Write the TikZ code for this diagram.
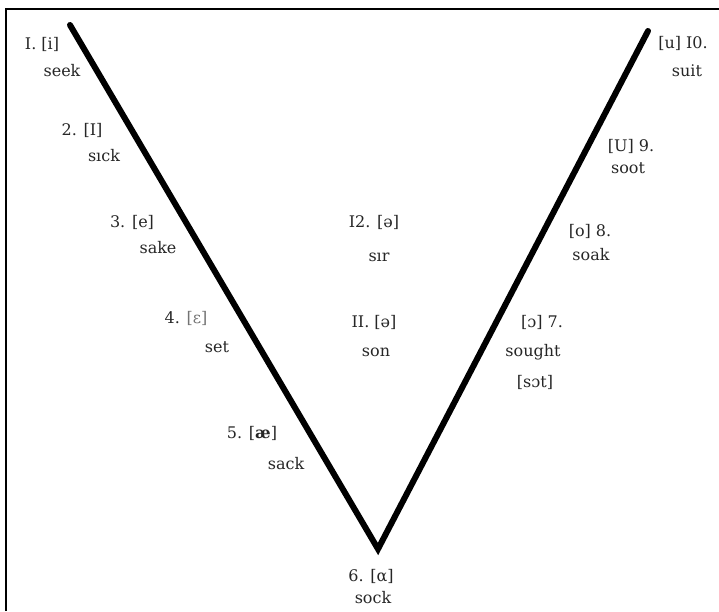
\documentclass[tikz,border=0pt]{standalone}
\usepackage{fontspec}
\setmainfont{DejaVu Serif}
\begin{document}
\begin{tikzpicture}[x=1pt,y=-1pt,
  lbl/.style={inner sep=0pt,anchor=center,font=\fontsize{16}{19}\selectfont,text=black!85},
  vline/.style={line width=6pt,line cap=round,line join=miter,black},
  frame/.style={line width=2.5pt,black}]
\useasboundingbox (0,0) rectangle (719,611);
% frame (left and top edges)
\coordinate (fb) at (6,611);
\coordinate (ft) at (6,9);
\coordinate (fr) at (719,9);
\draw[frame] (fb) -- (ft) -- (fr);
% V
\coordinate (hi) at (70,25);
\coordinate (lo) at (378,549);
\coordinate (hb) at (648,31);
\draw[vline] (hi) -- (lo) -- (hb);
% labels left
\node[lbl] (l1) at (42,44) {I. [i]};
\node[lbl] (w1) at (62,71) {seek};
\node[lbl] (l2) at (82,130) {2. [I]};
\node[lbl] (w2) at (104,156) {sıck};
\node[lbl] (l3) at (132,222) {3. [e]};
\node[lbl] (w3) at (158,248) {sake};
\node[lbl] (l4) at (186,318) {4. \textcolor{black!55}{[ɛ]}};
\node[lbl] (w4) at (217,347) {set};
\node[lbl] (l5) at (252,433) {5. [\textbf{æ}]};
\node[lbl] (w5) at (286,464) {sack};
\node[lbl] (l6) at (371,576) {6. [α]};
\node[lbl] (w6) at (373,598) {sock};
% middle
\node[lbl] (l12) at (374,222) {I2. [ə]};
\node[lbl] (w12) at (379,257) {sır};
\node[lbl] (l11) at (374,322) {II. [ə]};
\node[lbl] (w11) at (376,352) {son};
% right
\node[lbl] (l7) at (542,322) {[ɔ] 7.};
\node[lbl] (w7) at (533,352) {sought};
\node[lbl] (p7) at (535,382) {[sɔt]};
\node[lbl] (l8) at (590,231) {[o] 8.};
\node[lbl] (w8) at (591,255) {soak};
\node[lbl] (l9) at (631,146) {[U] 9.};
\node[lbl] (w9) at (628,168) {soot};
\node[lbl] (l10) at (683,43) {[u] I0.};
\node[lbl] (w10) at (687,71) {suit};
\end{tikzpicture}
\end{document}
